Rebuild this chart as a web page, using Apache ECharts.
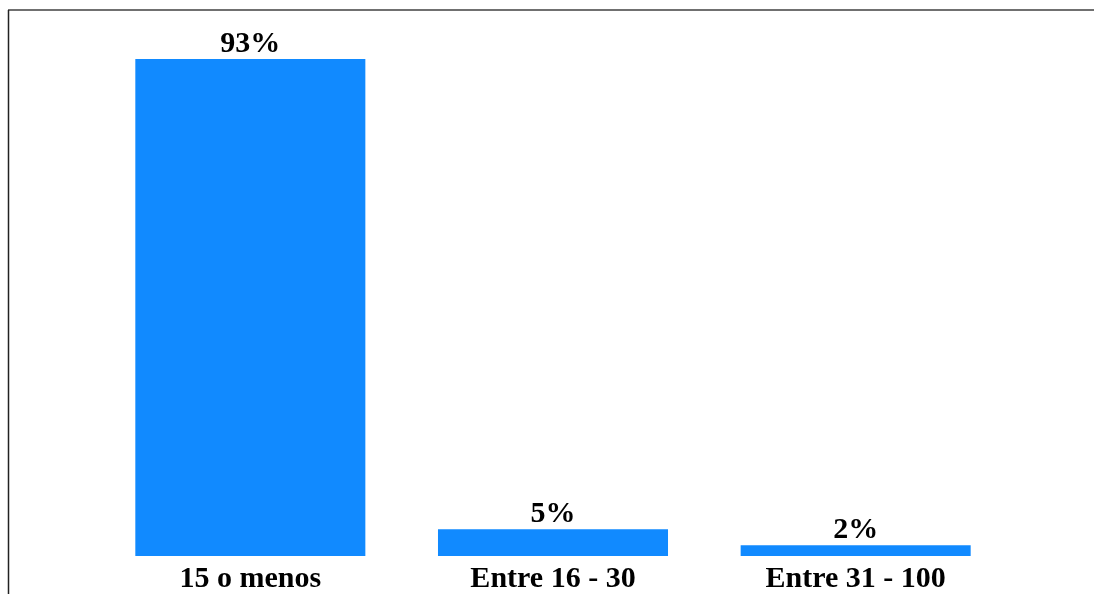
<!DOCTYPE html>
<html>
<head>
<meta charset="utf-8">
<script src="https://cdn.jsdelivr.net/npm/echarts@6/dist/echarts.min.js"></script>
<style>
  html, body { margin: 0; padding: 0; background: #ffffff; }
  #chart { width: 1094px; height: 594px; }
</style>
</head>
<body>
<div id="chart"></div>
<script>
// Share of respondents by size band
const categories = ['15 o menos', 'Entre 16 - 30', 'Entre 31 - 100'];
const percentages = [93, 5, 2];

const chart = echarts.init(document.getElementById('chart'), null, { renderer: 'canvas' });

const textFont = '"Liberation Serif", "Times New Roman", serif';

chart.setOption({
  animation: false,
  backgroundColor: '#ffffff',
  grid: { left: 99, right: 87, top: 59, bottom: 36.5, containLabel: false },
  xAxis: {
    type: 'category',
    data: categories,
    axisLine: { show: false },
    axisTick: { show: false },
    axisLabel: {
      color: '#000000',
      fontFamily: textFont,
      fontWeight: 'bold',
      fontSize: 30,
      margin: 8
    }
  },
  yAxis: {
    type: 'value',
    min: 0,
    max: 93,
    show: false,
    splitLine: { show: false }
  },
  series: [{
    type: 'bar',
    data: percentages,
    barCategoryGap: '24%',
    itemStyle: { color: '#118aff' },
    label: {
      show: true,
      position: 'top',
      distance: 0,
      formatter: '{c}%',
      color: '#000000',
      fontFamily: textFont,
      fontWeight: 'bold',
      fontSize: 30
    }
  }],
  graphic: [
    {
      type: 'line',
      shape: { x1: 8, y1: 10, x2: 1094, y2: 10 },
      style: { stroke: '#707070', lineWidth: 2 }
    },
    {
      type: 'line',
      shape: { x1: 8.5, y1: 10, x2: 8.5, y2: 594 },
      style: { stroke: '#222222', lineWidth: 1.5 }
    }
  ]
});
</script>
</body>
</html>
